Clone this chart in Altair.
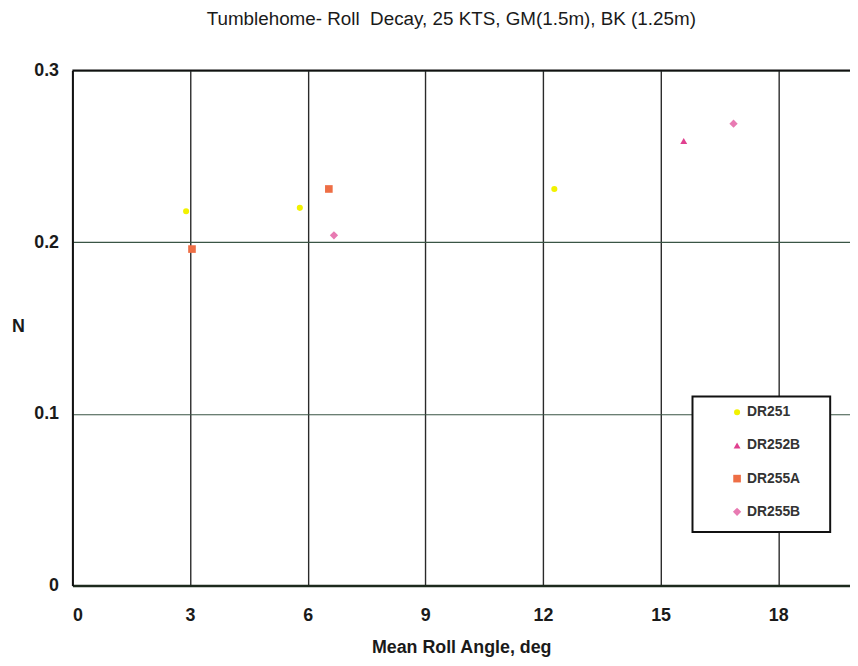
import altair as alt
import pandas as pd

series = ["DR251", "DR251", "DR251", "DR252B", "DR255A", "DR255A", "DR255B", "DR255B"]
roll_angle = [2.90, 5.80, 12.29, 15.59, 3.05, 6.54, 6.67, 16.86]
n_values = [0.218, 0.220, 0.231, 0.259, 0.196, 0.231, 0.204, 0.269]

legend_order = ["DR251", "DR252B", "DR255A", "DR255B"]
colors = ["#F2F200", "#E0408F", "#EE6E45", "#E87AB2"]
shapes = ["circle", "triangle-up", "square", "diamond"]
sizes = [38, 70, 50, 14]
x_ticks = [0, 3, 6, 9, 12, 15, 18]
y_ticks = [0, 0.1, 0.2, 0.3]

df = pd.DataFrame({"series": series, "angle": roll_angle, "N": n_values})

x_scale = alt.Scale(domain=[0, 19.83], nice=False, zero=True)
y_scale = alt.Scale(domain=[0, 0.3], nice=False)

points = alt.Chart(df).mark_point(filled=True, opacity=1).encode(
    x=alt.X("angle:Q", scale=x_scale, title="Mean Roll Angle, deg",
            axis=alt.Axis(values=x_ticks, format="d", grid=True, gridColor="#2a2a2a",
                          gridWidth=1.4, domainColor="#1d2a1d", domainWidth=2.5,
                          ticks=False, labelPadding=21, labelFontSize=18,
                          titlePadding=15, titleFontSize=18)),
    y=alt.Y("N:Q", scale=y_scale, title="N",
            axis=alt.Axis(values=y_ticks, format="~g", grid=True, gridColor="#3a5545",
                          gridWidth=1.2, domainColor="#111", domainWidth=2,
                          ticks=False, labelPadding=14, labelFontSize=18,
                          titleAngle=0, titleX=-55, titleY=258, titleAlign="center",
                          titleBaseline="middle", titleFontSize=18)),
    color=alt.Color("series:N", scale=alt.Scale(domain=legend_order, range=colors),
                    legend=alt.Legend(orient="none", legendX=627, legendY=326, title=None)),
    shape=alt.Shape("series:N", scale=alt.Scale(domain=legend_order, range=shapes)),
    size=alt.Size("series:N", scale=alt.Scale(domain=legend_order, range=sizes)),
)

legend_frame = alt.Chart(pd.DataFrame({"frame": [0]})).mark_rect(
    fill="white", stroke="#111", strokeWidth=2
).encode(
    x=alt.value(626), x2=alt.value(765), y=alt.value(329), y2=alt.value(466)
)

top_border = alt.Chart(pd.DataFrame({"y": [0.3]})).mark_rule(color="#111", strokeWidth=2.2).encode(
    y=alt.Y("y:Q", scale=y_scale)
)

chart = alt.layer(points, legend_frame, top_border).properties(
    width=785, height=520,
    title=alt.Title("Tumblehome- Roll\u00a0 Decay, 25 KTS, GM(1.5m), BK (1.25m)",
                    font="Liberation Sans", fontSize=19, fontWeight="normal",
                    color="#1a1a1a", offset=33, dx=-10),
    autosize=alt.AutoSizeParams(type="none"),
    padding={"left": 65, "top": 60, "right": 0, "bottom": 70},
).configure_view(stroke=None).configure_axis(
    labelFont="Liberation Sans", titleFont="Liberation Sans", labelColor="#1a1a1a",
    titleColor="#1a1a1a", labelFontWeight="bold", titleFontWeight="bold"
).configure_legend(
    padding=12, symbolOffset=25, labelOffset=3, rowPadding=19.5,
    labelFont="Liberation Sans", labelFontWeight="bold", labelFontSize=14,
    labelColor="#333"
)

chart.save("out.html", embed_options={"renderer": "svg", "actions": False})
